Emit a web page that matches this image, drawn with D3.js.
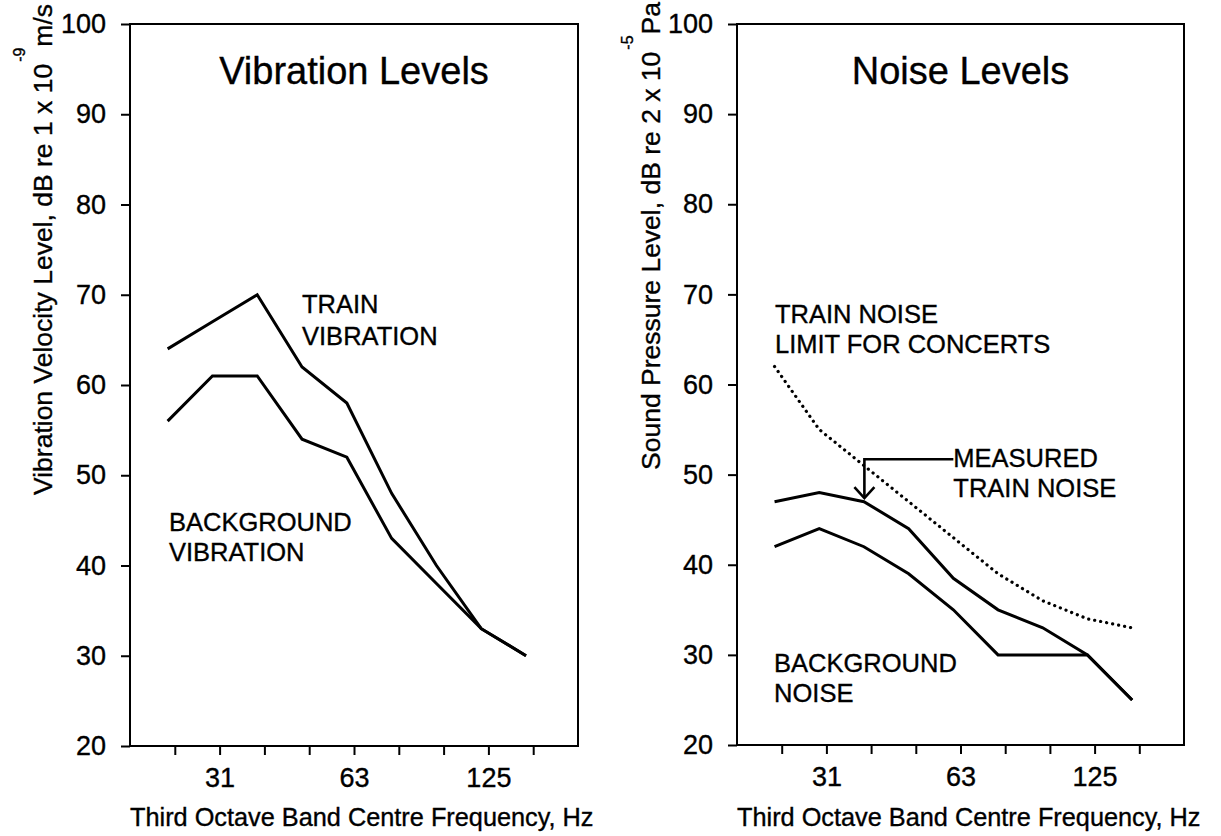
<!DOCTYPE html>
<html>
<head>
<meta charset="utf-8">
<script src="https://cdn.jsdelivr.net/npm/d3@7"></script>
<style>
  body { margin: 0; background: #fff; }
  svg text { font-family: Arial, "Liberation Sans", sans-serif; fill: #000; stroke: #000; stroke-width: 0.35px; }
</style>
</head>
<body>
<div id="chart"></div>
<script>
// Third octave bands (Hz), only some get a label
var bands = ["25", "31.5", "40", "50", "63", "80", "100", "125", "160"];
var bandTickLabels = ["", "31", "", "", "63", "", "", "125", ""];
var yTicks = [20, 30, 40, 50, 60, 70, 80, 90, 100];

// Vibration levels, dB re 1e-9 m/s
var trainVibration = [64, 67, 70, 62, 58, 48, 40, 33, 30];
var backgroundVibration = [56, 61, 61, 54, 52, 43, 38, 33, 30];

// Noise levels, dB re 2e-5 Pa
var trainNoise = [47, 48, 47, 44, 38.5, 35, 33, 30, 25];
var backgroundNoise = [42, 44, 42, 39, 35, 30, 30, 30, 25];
var concertLimit = [62, 55, 51, 47, 43, 39, 36, 34, 33];

// text notes inside the plots (x in band position, y in dB)
var vibrationNotes = [
  { text: "TRAIN", x: 3.84, y: 68 },
  { text: "VIBRATION", x: 3.84, y: 64.45 },
  { text: "BACKGROUND", x: 0.87, y: 43.8 },
  { text: "VIBRATION", x: 0.87, y: 40.5 }
];
var noiseNotes = [
  { text: "TRAIN NOISE", x: 0.85, y: 66.85 },
  { text: "LIMIT FOR CONCERTS", x: 0.85, y: 63.5 },
  { text: "MEASURED", x: 4.84, y: 50.8 },
  { text: "TRAIN NOISE", x: 4.84, y: 47.5 },
  { text: "BACKGROUND", x: 0.83, y: 28.1 },
  { text: "NOISE", x: 0.83, y: 24.8 }
];

// data points sit a little left of the tick marks in the original
var shift = -0.16;

var w = 1221;
var h = 836;

var svg = d3
  .select("#chart")
  .append("svg")
  .attr("width", w)
  .attr("height", h);

var left = drawPanel({
  x0: 130, x1: 578, yTop: 24, yBottom: 746,
  title: "Vibration Levels",
  series: [
    { values: trainVibration, dotted: false },
    { values: backgroundVibration, dotted: false }
  ],
  notes: vibrationNotes,
  label: "Vibration Velocity Level, dB re 1 x 10",
  sup: "-9",
  unit: "m/s",
  labelX: 52,
  labelStart: 495
});

var right = drawPanel({
  x0: 737, x1: 1184, yTop: 24, yBottom: 745,
  title: "Noise Levels",
  series: [
    { values: concertLimit, dotted: true },
    { values: trainNoise, dotted: false },
    { values: backgroundNoise, dotted: false }
  ],
  notes: noiseNotes,
  label: "Sound Pressure Level, dB re 2 x 10",
  sup: "-5",
  unit: "Pa",
  labelX: 660,
  labelStart: 470
});

// arrow pointing from "MEASURED" down to the train noise line
var ax = right.x(3 + shift + 0.01);
var ay = right.y(51.7);
var tipY = right.y(47.4);
svg
  .append("path")
  .attr("d", "M" + right.x(4.84) + "," + ay + "H" + ax + "V" + tipY)
  .attr("fill", "none")
  .attr("stroke", "#000")
  .attr("stroke-width", 2.6);
svg
  .append("path")
  .attr("d", "M" + (ax - 10) + "," + (tipY - 11) + "L" + ax + "," + tipY + "L" + (ax + 10) + "," + (tipY - 11))
  .attr("fill", "none")
  .attr("stroke", "#000")
  .attr("stroke-width", 2.6);

function drawPanel(o) {
  var x = d3.scaleLinear().domain([0, 10]).range([o.x0, o.x1]);
  var y = d3.scaleLinear().domain([20, 100]).range([o.yBottom, o.yTop]);
  var g = svg.append("g");

  // frame
  g.append("rect")
    .attr("x", x(0))
    .attr("y", y(100))
    .attr("width", x(10) - x(0))
    .attr("height", y(20) - y(100))
    .attr("fill", "none")
    .attr("stroke", "#000")
    .attr("stroke-width", 2);

  // y axis
  var yAxis = d3.axisLeft(y).tickValues(yTicks).tickSize(9).tickPadding(15);
  var ya = g.append("g").attr("transform", "translate(" + x(0) + ",0)").call(yAxis);
  ya.select(".domain").remove();
  ya.selectAll("line").attr("stroke-width", 2);
  ya.selectAll("text").attr("font-size", 27).attr("font-family", null);

  // x axis
  var xAxis = d3
    .axisBottom(x)
    .tickValues(d3.range(1, bands.length + 1))
    .tickFormat(function (d) { return bandTickLabels[d - 1]; })
    .tickSize(9)
    .tickPadding(13);
  var xa = g.append("g").attr("transform", "translate(0," + y(20) + ")").call(xAxis);
  xa.select(".domain").remove();
  xa.selectAll("line").attr("stroke-width", 2);
  xa.selectAll("text").attr("font-size", 27).attr("font-family", null);

  // lines
  var line = d3
    .line()
    .x(function (d, i) { return x(i + 1 + shift); })
    .y(function (d) { return y(d); });
  o.series.forEach(function (s) {
    var p = g.append("path")
      .attr("d", line(s.values))
      .attr("fill", "none")
      .attr("stroke", "#000");
    if (s.dotted) {
      p.attr("stroke-width", 3.2)
        .attr("stroke-linecap", "round")
        .attr("stroke-dasharray", "0.1 6");
    } else {
      p.attr("stroke-width", 3).attr("stroke-linejoin", "miter");
    }
  });

  // notes
  g.selectAll(".note")
    .data(o.notes)
    .enter()
    .append("text")
    .attr("class", "note")
    .attr("x", function (d) { return x(d.x); })
    .attr("y", function (d) { return y(d.y); })
    .attr("font-size", 25.5)
    .text(function (d) { return d.text; });

  // title
  g.append("text")
    .attr("x", (x(0) + x(10)) / 2)
    .attr("y", o.yTop + 60)
    .attr("text-anchor", "middle")
    .attr("font-size", 38)
    .text(o.title);

  // x axis title
  g.append("text")
    .attr("x", x(0))
    .attr("y", 826)
    .attr("font-size", 25.3)
    .text("Third Octave Band Centre Frequency, Hz");

  // y axis title with superscript
  var main = g.append("text")
    .attr("transform", "translate(" + o.labelX + "," + o.labelStart + ") rotate(-90)")
    .attr("font-size", 26.5)
    .text(o.label);
  var len = main.node().getComputedTextLength();
  var supStart = o.labelStart - len - 2;
  var sup = g.append("text")
    .attr("transform", "translate(" + (o.labelX - 27) + "," + supStart + ") rotate(-90)")
    .attr("font-size", 16)
    .text(o.sup);
  var supLen = sup.node().getComputedTextLength();
  g.append("text")
    .attr("transform", "translate(" + o.labelX + "," + (supStart - supLen - 1) + ") rotate(-90)")
    .attr("font-size", 26.5)
    .text(o.unit);

  return { x: x, y: y };
}
</script>
</body>
</html>
